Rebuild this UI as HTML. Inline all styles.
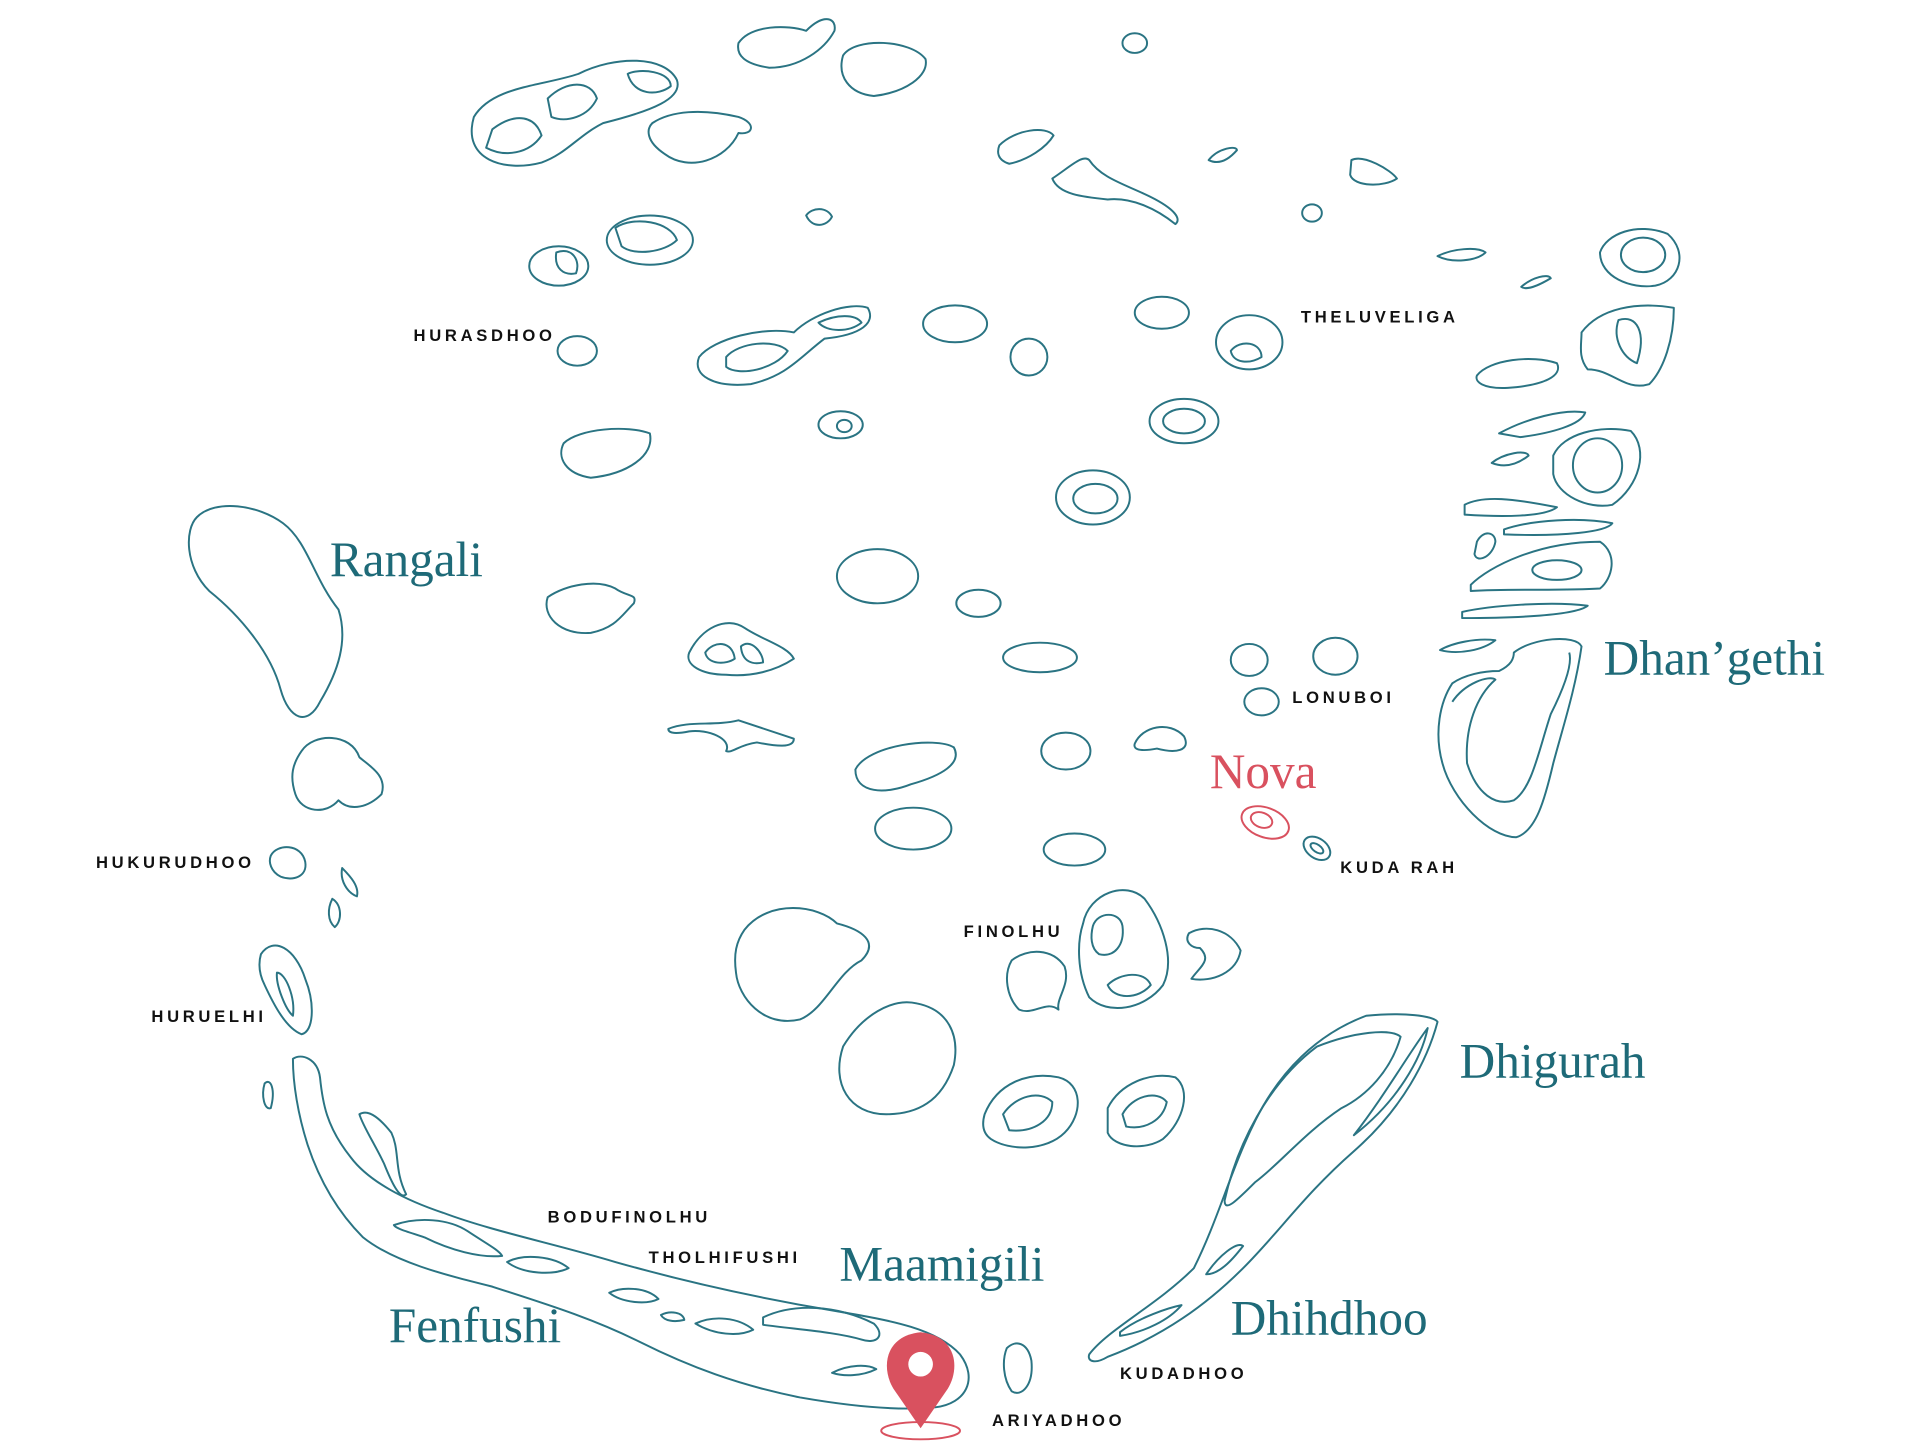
<!DOCTYPE html>
<html><head><meta charset="utf-8"><style>
html,body{margin:0;padding:0;background:#fff;}
svg{display:block;}
.i{fill:none;stroke:#2a7483;stroke-width:1.6;stroke-linejoin:round;}
.r{fill:none;stroke:#d9515f;stroke-width:1.6;}
.big{font-family:"Liberation Serif",serif;font-size:40px;fill:#1e6a78;}
.sm{font-family:"Liberation Sans",sans-serif;font-size:13.5px;font-weight:bold;letter-spacing:3px;fill:#111;}
</style></head><body>
<svg width="1920" height="1443" viewBox="0 0 1560 1172" preserveAspectRatio="none" xmlns="http://www.w3.org/2000/svg">
<g class="i">
<path d="M385,95 C400,70 440,70 470,60 C500,45 540,45 550,65 C555,80 530,90 490,100 C470,110 460,125 440,132 C410,140 375,130 385,95Z"/>
<path d="M400,105 C420,90 435,95 440,110 C430,125 410,128 395,120Z"/>
<path d="M445,80 C460,65 480,65 485,80 C478,95 460,100 448,95Z"/>
<path d="M510,60 C520,55 545,58 545,70 C535,78 515,78 510,60Z"/>
<path d="M530,100 C545,90 570,88 600,95 C615,100 612,110 600,108 C590,130 560,140 540,125 C525,115 525,105 530,100Z"/>
<path d="M600,35 C610,20 640,20 655,25 C670,10 680,15 678,25 C670,40 650,55 625,55 C605,52 598,45 600,35Z"/>
<path d="M685,45 C695,30 740,32 752,48 C755,62 735,75 710,78 C690,76 680,62 685,45Z"/>
<ellipse cx="922" cy="35" rx="10" ry="8"/>
<path d="M812,118 C825,105 850,102 856,110 C850,120 835,130 820,133 C810,130 810,123 812,118Z"/>
<path d="M855,145 C870,135 880,125 885,130 C895,145 915,150 935,160 C955,170 960,178 955,182 C940,170 920,160 900,162 C880,160 860,158 855,145Z"/>
<path d="M982,130 C990,120 1005,118 1005,122 C998,130 990,134 982,130Z"/>
<path d="M1098,130 C1108,125 1130,138 1135,145 C1125,152 1100,152 1097,142Z"/>
<ellipse cx="1066" cy="173" rx="8" ry="7"/>
<path d="M655,175 C660,168 672,168 676,176 C672,184 660,186 655,175Z"/>
<ellipse cx="454" cy="216" rx="24" ry="16"/>
<path d="M452,205 C465,200 472,212 468,222 C458,224 450,218 452,205Z"/>
<ellipse cx="528" cy="195" rx="35" ry="20"/>
<path d="M500,185 C515,175 545,180 550,195 C540,205 515,208 505,200Z"/>
<ellipse cx="469" cy="285" rx="16" ry="12"/>
<path d="M568,290 C580,275 620,265 645,270 C660,255 690,245 705,250 C712,262 700,272 670,275 C650,290 640,305 610,312 C580,315 562,305 568,290Z"/>
<path d="M590,290 C600,278 630,275 640,285 C630,300 600,306 590,298Z"/>
<path d="M665,262 C680,255 695,255 700,262 C690,270 672,270 665,262Z"/>
<ellipse cx="776" cy="263" rx="26" ry="15"/>
<ellipse cx="836" cy="290" rx="15" ry="15"/>
<ellipse cx="944" cy="254" rx="22" ry="13"/>
<ellipse cx="1015" cy="278" rx="27" ry="22"/>
<path d="M1000,285 C1008,275 1025,278 1025,290 C1015,296 1002,295 1000,285Z"/>
<ellipse cx="683" cy="345" rx="18" ry="11"/>
<ellipse cx="686" cy="346" rx="6" ry="5"/>
<path d="M458,360 C470,348 510,345 528,352 C532,370 510,385 480,388 C460,385 452,372 458,360Z"/>
<ellipse cx="962" cy="342" rx="28" ry="18"/>
<ellipse cx="962" cy="342" rx="17" ry="10"/>
<ellipse cx="888" cy="404" rx="30" ry="22"/>
<ellipse cx="890" cy="405" rx="18" ry="12"/>
<path d="M160,420 C175,405 210,410 230,425 C250,440 255,470 275,495 C283,520 275,545 260,570 C250,590 235,585 228,560 C220,530 195,500 170,480 C150,460 150,430 160,420Z"/>
<path d="M245,610 C255,595 285,595 292,615 C300,622 315,630 310,645 C300,655 285,660 275,650 C265,662 245,660 240,645 C235,630 238,620 245,610Z"/>
<path d="M220,695 C225,685 245,685 248,700 C250,712 238,716 228,712 C220,708 218,700 220,695Z"/>
<path d="M278,705 C285,712 292,720 290,728 C282,725 276,715 278,705Z"/>
<path d="M270,730 C278,735 278,748 272,753 C266,748 266,738 270,730Z"/>
<path d="M212,775 C222,760 240,770 248,795 C256,815 255,838 245,840 C232,835 222,815 215,800 C210,790 210,782 212,775Z"/>
<path d="M225,790 C232,790 240,810 238,825 C232,820 224,800 225,790Z"/>
<path d="M215,880 C220,875 224,885 220,900 C215,902 212,890 215,880Z"/>
<path d="M445,485 C460,475 485,470 500,478 C510,485 518,482 515,490 C505,500 500,510 480,514 C455,516 440,500 445,485Z"/>
<path d="M560,530 C570,510 590,500 605,510 C620,520 640,525 645,535 C630,545 610,550 590,548 C570,548 556,540 560,530Z"/>
<path d="M573,530 C580,520 595,520 597,535 C590,540 575,540 573,530Z"/>
<path d="M602,525 C610,518 620,530 620,538 C612,540 603,538 602,525Z"/>
<ellipse cx="713" cy="468" rx="33" ry="22"/>
<ellipse cx="795" cy="490" rx="18" ry="11"/>
<ellipse cx="845" cy="534" rx="30" ry="12"/>
<path d="M543,592 C560,585 580,590 600,585 C615,590 630,595 645,600 C645,608 630,606 615,603 C600,605 595,612 590,610 C595,600 575,592 560,594 C550,596 543,596 543,592Z"/>
<path d="M695,625 C705,605 760,598 775,607 C782,620 765,630 740,637 C720,645 695,645 695,625Z"/>
<ellipse cx="742" cy="673" rx="31" ry="17"/>
<ellipse cx="866" cy="610" rx="20" ry="15"/>
<path d="M922,604 C928,590 950,585 962,598 C968,610 955,612 940,608 C930,610 920,610 922,604Z"/>
<ellipse cx="873" cy="690" rx="25" ry="13"/>
<ellipse cx="1015" cy="536" rx="15" ry="13"/>
<ellipse cx="1085" cy="533" rx="18" ry="15"/>
<ellipse cx="1025" cy="570" rx="14" ry="11"/>
<ellipse cx="1070" cy="689" rx="12" ry="8" transform="rotate(35 1070 689)"/>
<ellipse cx="1070" cy="689" rx="6" ry="3" transform="rotate(35 1070 689)"/>
<path d="M605,755 C625,730 665,735 680,750 C700,755 715,765 700,780 C680,790 670,820 650,828 C620,835 600,810 598,790 C596,775 598,765 605,755Z"/>
<path d="M685,850 C700,825 725,810 745,815 C770,820 780,840 775,865 C765,895 745,905 720,905 C690,905 675,880 685,850Z"/>
<path d="M880,750 C885,725 915,715 930,730 C945,750 955,780 945,800 C930,820 900,825 885,810 C875,790 875,765 880,750Z"/>
<path d="M888,752 C892,740 910,740 912,752 C914,768 905,778 893,775 C886,770 886,760 888,752Z"/>
<path d="M900,800 C910,790 930,788 935,800 C925,812 905,812 900,800Z"/>
<path d="M822,780 C835,770 855,770 865,785 C870,800 858,810 860,820 C850,812 840,825 828,820 C818,810 815,792 822,780Z"/>
<path d="M966,758 C980,750 1000,755 1008,772 C1005,790 985,798 968,795 C975,785 985,780 975,770 C968,770 962,765 966,758Z"/>
<path d="M800,905 C810,880 835,870 860,875 C880,880 880,905 865,920 C850,935 820,935 805,925 C798,920 798,912 800,905Z"/>
<path d="M815,905 C825,890 845,885 855,895 C855,910 840,920 820,918Z"/>
<path d="M900,900 C910,880 935,870 955,875 C968,885 962,910 945,925 C930,935 905,932 900,920Z"/>
<path d="M912,905 C920,890 940,885 948,895 C945,910 930,918 915,915Z"/>
<path d="M1300,205 C1305,190 1330,180 1355,190 C1372,205 1365,228 1345,232 C1325,235 1300,225 1300,205Z"/>
<ellipse cx="1335" cy="207" rx="18" ry="14"/>
<path d="M1168,208 C1180,202 1200,200 1207,205 C1200,212 1180,214 1168,208Z"/>
<path d="M1236,233 C1245,225 1258,222 1260,226 C1250,232 1240,236 1236,233Z"/>
<path d="M1285,270 C1300,250 1330,245 1360,250 C1360,275 1352,300 1340,312 C1320,318 1310,300 1290,300 C1282,290 1285,280 1285,270Z"/>
<path d="M1315,260 C1330,255 1338,270 1330,295 C1318,290 1310,275 1315,260Z"/>
<path d="M1200,305 C1210,292 1245,288 1265,295 C1270,305 1255,313 1225,315 C1205,316 1198,310 1200,305Z"/>
<path d="M1218,352 C1240,340 1270,332 1288,335 C1285,345 1260,352 1235,355Z"/>
<path d="M1212,376 C1222,368 1240,365 1242,370 C1232,378 1222,380 1212,376Z"/>
<path d="M1262,370 C1270,352 1300,345 1325,350 C1340,365 1332,395 1310,410 C1290,414 1265,402 1262,385Z"/>
<ellipse cx="1298" cy="378" rx="20" ry="22"/>
<path d="M1190,410 C1205,402 1230,405 1265,412 C1255,420 1220,420 1190,418Z"/>
<path d="M1200,440 C1205,430 1215,432 1215,440 C1213,452 1200,458 1198,450Z"/>
<path d="M1222,430 C1245,422 1285,420 1310,425 C1305,432 1270,436 1222,434Z"/>
<path d="M1195,475 C1210,460 1250,440 1300,440 C1315,450 1310,470 1300,478 C1270,480 1230,478 1195,480Z"/>
<ellipse cx="1265" cy="463" rx="20" ry="8"/>
<path d="M1188,497 C1210,492 1260,488 1290,492 C1280,500 1230,502 1188,502Z"/>
<path d="M1170,528 C1180,522 1200,518 1215,520 C1205,528 1185,532 1170,528Z"/>
<path d="M1230,530 C1245,518 1280,515 1285,525 C1280,560 1270,590 1262,620 C1255,650 1248,675 1232,680 C1210,680 1180,650 1172,620 C1165,595 1170,570 1180,555 C1190,548 1205,545 1218,545 C1228,540 1230,535 1230,530Z"/>
<path d="M1180,570 C1190,555 1210,548 1215,552 C1200,565 1190,590 1192,620 C1200,645 1215,655 1230,650 C1245,640 1250,610 1260,580 C1270,560 1278,540 1275,530"/>
<path d="M885,1100 C900,1080 940,1060 970,1030 C990,990 1000,950 1020,910 C1040,870 1070,840 1110,825 C1140,822 1165,825 1168,830 C1160,860 1140,900 1100,935 C1060,970 1040,1000 1010,1030 C980,1060 945,1085 900,1102 C890,1108 883,1106 885,1100Z"/>
<path d="M995,975 C1005,930 1030,880 1070,850 C1100,838 1130,835 1138,842 C1130,870 1110,890 1090,900 C1060,920 1040,945 1020,960 C1005,975 995,985 995,975Z"/>
<path d="M910,1082 C925,1070 950,1062 960,1060 C950,1072 930,1082 910,1085Z"/>
<path d="M980,1035 C990,1020 1005,1008 1010,1012 C1000,1025 990,1035 980,1035Z"/>
<path d="M1100,922 C1125,890 1145,855 1160,835 C1155,860 1135,895 1100,922Z"/>
<path d="M818,1095 C825,1088 835,1090 838,1105 C840,1125 830,1135 822,1130 C815,1120 814,1105 818,1095Z"/>
<path d="M238,860 C245,855 258,860 260,875 C262,895 265,915 285,940 C300,960 330,975 360,985 C400,1000 450,1010 500,1025 C560,1042 620,1055 680,1065 C720,1072 760,1078 780,1100 C795,1120 785,1140 760,1143 C730,1146 690,1142 650,1135 C600,1125 560,1110 520,1090 C480,1070 440,1058 400,1045 C360,1035 320,1025 295,1005 C275,985 260,960 250,930 C242,905 238,880 238,860Z"/>
<path d="M292,905 C300,900 310,910 318,920 C325,935 320,950 330,970 C325,975 318,960 312,945 C305,930 295,915 292,905Z"/>
<path d="M320,995 C340,988 365,990 380,1000 C395,1010 405,1015 408,1020 C390,1022 365,1015 345,1005 C330,1000 322,998 320,995Z"/>
<path d="M412,1025 C425,1018 450,1020 462,1030 C450,1036 425,1035 412,1025Z"/>
<path d="M495,1050 C505,1045 525,1045 535,1055 C525,1060 505,1058 495,1050Z"/>
<path d="M537,1068 C545,1064 555,1066 556,1072 C548,1074 540,1073 537,1068Z"/>
<path d="M565,1075 C580,1068 600,1070 612,1080 C600,1086 580,1084 565,1075Z"/>
<path d="M620,1070 C645,1058 680,1060 710,1075 C720,1085 712,1092 700,1088 C680,1082 650,1080 620,1076Z"/>
<path d="M676,1115 C690,1108 705,1108 712,1112 C700,1118 685,1118 676,1115Z"/>
</g>
<g class="r">
<ellipse cx="1028" cy="668" rx="20" ry="12" transform="rotate(20 1028 668)"/>
<ellipse cx="1025" cy="666" rx="9" ry="6" transform="rotate(20 1025 666)"/>
<ellipse cx="748" cy="1162" rx="32" ry="7"/>
</g>
<path d="M748,1160 L726,1128 C716,1112 718,1085 748,1082 C778,1085 780,1112 770,1128 Z" fill="#d9515f"/>
<circle cx="748" cy="1108" r="10" fill="#fff"/>
<text class="big" x="268" y="468">Rangali</text>
<text class="big" x="1303" y="548">Dhan’gethi</text>
<text class="big" x="1186" y="875">Dhigurah</text>
<text class="big" x="1000" y="1084">Dhihdhoo</text>
<text class="big" x="682" y="1040">Maamigili</text>
<text class="big" x="316" y="1090">Fenfushi</text>
<text class="big" x="983" y="640" style="fill:#d9515f">Nova</text>
<text class="sm" x="336" y="277">HURASDHOO</text>
<text class="sm" x="1057" y="262">THELUVELIGA</text>
<text class="sm" x="1050" y="571">LONUBOI</text>
<text class="sm" x="1089" y="709">KUDA RAH</text>
<text class="sm" x="78" y="705">HUKURUDHOO</text>
<text class="sm" x="783" y="761">FINOLHU</text>
<text class="sm" x="123" y="830">HURUELHI</text>
<text class="sm" x="445" y="993">BODUFINOLHU</text>
<text class="sm" x="527" y="1026">THOLHIFUSHI</text>
<text class="sm" x="910" y="1120">KUDADHOO</text>
<text class="sm" x="806" y="1158">ARIYADHOO</text>
</svg>
</body></html>
